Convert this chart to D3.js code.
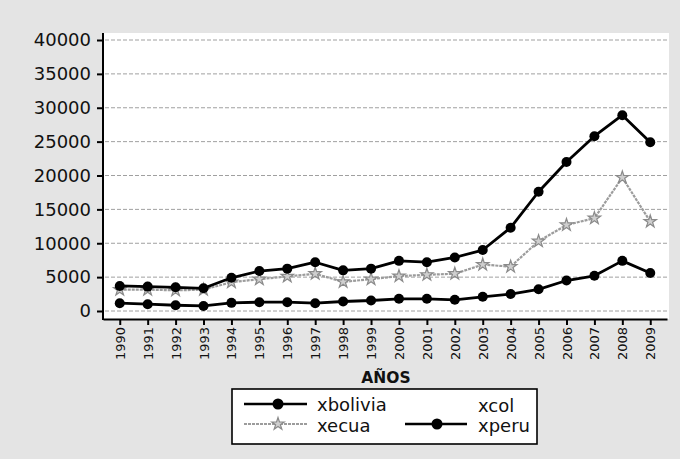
<!DOCTYPE html>
<html><head><meta charset="utf-8">
<script src="https://cdn.jsdelivr.net/npm/d3@7"></script>
<style>
html,body{margin:0;padding:0;background:#e6e6e6;}
svg{display:block;}
text{font-family:"DejaVu Sans",sans-serif;}
</style></head>
<body>
<svg id="c" width="680" height="459"></svg>
<script>
const years = [1990,1991,1992,1993,1994,1995,1996,1997,1998,1999,2000,2001,2002,2003,2004,2005,2006,2007,2008,2009];
const xbolivia = [3700,3600,3500,3350,4900,5900,6250,7200,6000,6250,7400,7200,7900,9000,12300,17600,22000,25800,28900,24900];
const xecua = [3150,3150,3050,3150,4250,4700,5100,5500,4300,4700,5150,5350,5500,6850,6550,10300,12700,13700,19700,13200];
const xperu = [1150,1000,850,750,1200,1300,1300,1150,1400,1550,1800,1800,1650,2100,2500,3200,4500,5200,7400,5600];
const yTicks = [0,5000,10000,15000,20000,25000,30000,35000,40000];
const xTitle = "AÑOS";
const legendNames = ["xbolivia","xecua","xcol","xperu"];

const svg = d3.select("#c");
const L = 103, R = 667, T = 33, B = 319;

svg.append("rect").attr("x",0).attr("y",0).attr("width",680).attr("height",459).attr("fill","#e4e4e4");
svg.append("rect").attr("x",L).attr("y",T).attr("width",R-L+2).attr("height",B-T).attr("fill","#fff");

const x = d3.scalePoint().domain(years).range([L, R]).padding(0.6);
const y = d3.scaleLinear().domain([0,40000]).range([311, 40]);

// gridlines
svg.append("g").selectAll("line").data(yTicks).join("line")
  .attr("x1",L+2).attr("x2",R+1)
  .attr("y1",d=>y(d)).attr("y2",d=>y(d))
  .attr("stroke","#a0a0a0").attr("stroke-width",1).attr("stroke-dasharray","4,2");

// y axis
const ya = svg.append("g").attr("transform",`translate(${L},0)`)
  .call(d3.axisLeft(y).tickValues(yTicks).tickSize(6).tickPadding(6).tickFormat(d3.format("d")));
ya.select(".domain").remove();
ya.selectAll(".tick line").attr("stroke","#000").attr("stroke-width",2);
ya.selectAll(".tick text").attr("font-size",18).attr("fill","#111").attr("font-family","DejaVu Sans");
svg.append("line").attr("x1",L).attr("x2",L).attr("y1",T).attr("y2",B+1).attr("stroke","#000").attr("stroke-width",2);

// x axis
const xa = svg.append("g").attr("transform",`translate(0,${B})`)
  .call(d3.axisBottom(x).tickSize(6).tickSizeOuter(0));
xa.select(".domain").attr("stroke","#000").attr("stroke-width",2);
xa.selectAll(".tick line").attr("stroke","#000").attr("stroke-width",2);
xa.selectAll(".tick text")
  .attr("font-size",13).attr("fill","#111").attr("font-family","DejaVu Sans")
  .attr("transform","rotate(-90)")
  .attr("text-anchor","end").attr("x",-8).attr("y",0).attr("dy","0.35em");

svg.append("text").attr("x",386).attr("y",383).attr("text-anchor","middle")
  .attr("font-weight","bold").attr("font-size",15.5).attr("fill","#111").text(xTitle);

// series
const line = d3.line().x((d,i)=>x(years[i])).y(d=>y(d));
const star = d3.symbol().type(d3.symbolStar).size(48);

function blackSeries(vals){
  svg.append("path").datum(vals).attr("d",line).attr("fill","none")
    .attr("stroke","#000").attr("stroke-width",2.8).attr("stroke-linejoin","round");
  svg.append("g").selectAll("circle").data(vals).join("circle")
    .attr("cx",(d,i)=>x(years[i])).attr("cy",d=>y(d)).attr("r",5).attr("fill","#000");
}
function graySeries(vals){
  svg.append("path").datum(vals).attr("d",line).attr("fill","none")
    .attr("stroke","#9c9c9c").attr("stroke-width",2.2).attr("stroke-dasharray","3,1");
  svg.append("g").selectAll("path").data(vals).join("path")
    .attr("transform",(d,i)=>`translate(${x(years[i])},${y(d)})`)
    .attr("d",star).attr("fill","#cfcfcf").attr("stroke","#8a8a8a").attr("stroke-width",1.2);
}
graySeries(xecua);
blackSeries(xperu);
blackSeries(xbolivia);

// legend
const lg = svg.append("g");
lg.append("rect").attr("x",232).attr("y",389).attr("width",305).attr("height",55)
  .attr("fill","#fff").attr("stroke","#000").attr("stroke-width",1.6);
function legBlack(x1,x2,cx,cy){
  lg.append("line").attr("x1",x1).attr("x2",x2).attr("y1",cy).attr("y2",cy).attr("stroke","#000").attr("stroke-width",2.4);
  lg.append("circle").attr("cx",cx).attr("cy",cy).attr("r",5.5).attr("fill","#000");
}
legBlack(244,307,278,404);
lg.append("line").attr("x1",244).attr("x2",307).attr("y1",424).attr("y2",424)
  .attr("stroke","#9c9c9c").attr("stroke-width",2).attr("stroke-dasharray","3,1");
lg.append("path").attr("transform","translate(278,424)").attr("d",star)
  .attr("fill","#cfcfcf").attr("stroke","#8a8a8a").attr("stroke-width",1.2);
legBlack(405,467,437,424);
const lt = [[317,411,legendNames[0]],[317,432,legendNames[1]],[478,412,legendNames[2]],[478,432,legendNames[3]]];
lg.selectAll("text").data(lt).join("text")
  .attr("x",d=>d[0]).attr("y",d=>d[1]).attr("font-size",18).attr("fill","#111").text(d=>d[2]);
</script>
</body></html>
